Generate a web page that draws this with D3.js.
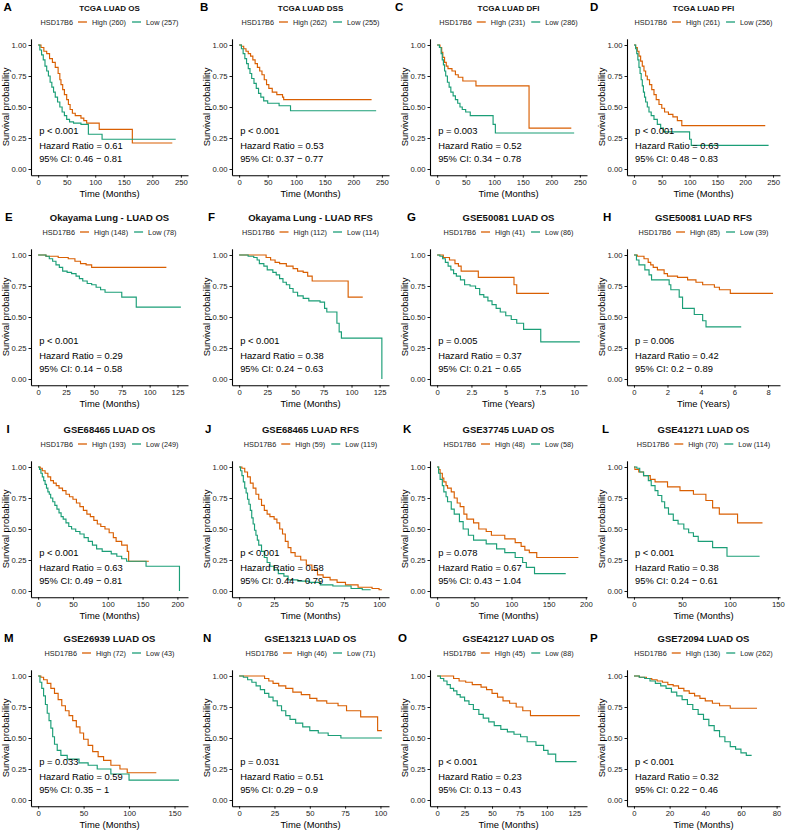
<!DOCTYPE html>
<html><head><meta charset="utf-8">
<script src="https://cdn.jsdelivr.net/npm/d3@7"></script>
<style>
body{margin:0;background:#fff}
svg{display:block}
text{font-family:"Liberation Sans",Arial,Helvetica,sans-serif}
</style>
</head><body>
<svg id="chart" width="786" height="833"></svg>
<script>
// ---------------- DATA ----------------
const panelLetters = ["A","B","C","D","E","F","G","H","I","J","K","L","M","N","O","P"];
const panelTitles = ["TCGA LUAD OS","TCGA LUAD DSS","TCGA LUAD DFI","TCGA LUAD PFI",
  "Okayama Lung - LUAD OS","Okayama Lung - LUAD RFS","GSE50081 LUAD OS","GSE50081 LUAD RFS",
  "GSE68465 LUAD OS","GSE68465 LUAD RFS","GSE37745 LUAD OS","GSE41271 LUAD OS",
  "GSE26939 LUAD OS","GSE13213 LUAD OS","GSE42127 LUAD OS","GSE72094 LUAD OS"];
const legendTitle = "HSD17B6";
const highLabels = ["High (260)","High (262)","HIgh (231)","High (261)","High (148)","High (112)","High (41)","High (85)",
  "High (193)","High (59)","High (48)","High (70)","High (72)","High (46)","HIgh (45)","HIgh (136)"];
const lowLabels = ["Low (257)","Low (255)","Low (286)","Low (256)","Low (78)","Low (114)","Low (86)","Low (39)",
  "Low (249)","Low (119)","Low (58)","Low (114)","Low (43)","Low (71)","Low (88)","Low (262)"];
const pLabels = ["p < 0.001","p < 0.001","p = 0.003","p < 0.001","p < 0.001","p < 0.001","p = 0.005","p = 0.006",
  "p < 0.001","p < 0.001","p = 0.078","p < 0.001","p = 0.033","p = 0.031","p < 0.001","p < 0.001"];
const hazardRatios = ["0.61","0.53","0.52","0.63","0.29","0.38","0.37","0.42","0.63","0.58","0.67","0.38","0.59","0.51","0.23","0.32"];
const ciLabels = ["0.46 − 0.81","0.37 − 0.77","0.34 − 0.78","0.48 − 0.83","0.14 − 0.58","0.24 − 0.63","0.21 − 0.65","0.2 − 0.89",
  "0.49 − 0.81","0.44 − 0.79","0.43 − 1.04","0.24 − 0.61","0.35 − 1","0.29 − 0.9","0.13 − 0.43","0.22 − 0.46"];
const timeUnits = ["Months","Months","Months","Months","Months","Months","Years","Years",
  "Months","Months","Months","Months","Months","Months","Months","Months"];
const xMax = [250,250,250,250,128,127,10.4,8.3,205,102,192,145,157,101,130,78];
const xTicks = [
  [0,50,100,150,200,250],[0,50,100,150,200,250],[0,50,100,150,200,250],[0,50,100,150,200,250],
  [0,25,50,75,100,125],[0,25,50,75,100,125],[0,2.5,5,7.5,10],[0,2,4,6,8],
  [0,50,100,150,200],[0,25,50,75,100],[0,50,100,150,200],[0,50,100,150],
  [0,50,100,150],[0,25,50,75,100],[0,25,50,75,100,125],[0,20,40,60,80]];
const yTicks = [0,0.25,0.5,0.75,1];

// Kaplan-Meier step points [time, survival] — High expression group
const highCurves = [
  [[0,1],[5,0.98],[10,0.95],[15,0.93],[20,0.89],[25,0.86],[30,0.82],[35,0.77],[38,0.72],[40,0.68],[43,0.64],[46,0.6],[50,0.56],[53,0.52],[56,0.48],[60,0.45],[65,0.43],[75,0.41],[80,0.39],[85,0.37],[107,0.32],[165,0.21],[235,0.21]],
  [[0,1],[4,0.99],[8,0.97],[12,0.95],[16,0.93],[20,0.91],[24,0.88],[28,0.85],[32,0.82],[36,0.79],[40,0.76],[44,0.72],[48,0.68],[52,0.65],[58,0.62],[66,0.6],[76,0.58],[78,0.56],[232,0.56]],
  [[0,1],[5,0.98],[8,0.94],[10,0.9],[13,0.86],[16,0.83],[19,0.81],[26,0.79],[32,0.76],[37,0.74],[45,0.71],[68,0.67],[161,0.33],[235,0.33]],
  [[0,1],[3,0.98],[6,0.95],[9,0.91],[12,0.87],[15,0.83],[18,0.79],[21,0.75],[24,0.72],[28,0.68],[32,0.64],[36,0.6],[40,0.56],[45,0.52],[50,0.49],[55,0.46],[62,0.44],[70,0.42],[78,0.39],[86,0.35],[236,0.35]],
  [[0,1],[7,0.99],[18,0.98],[27,0.97],[33,0.95],[38,0.93],[43,0.92],[48,0.9],[115,0.9]],
  [[0,1],[24,0.98],[28,0.96],[32,0.94],[36,0.93],[42,0.91],[48,0.89],[52,0.87],[57,0.86],[61,0.83],[65,0.79],[97,0.66],[110,0.66]],
  [[0,1],[0.45,0.98],[0.9,0.96],[1.3,0.93],[1.55,0.91],[1.75,0.87],[3.0,0.82],[5.6,0.76],[5.8,0.69],[8.15,0.69]],
  [[0,1],[0.2,0.99],[0.6,0.97],[0.85,0.94],[1.0,0.92],[1.15,0.9],[1.4,0.88],[1.8,0.85],[2.0,0.83],[2.6,0.82],[3.2,0.8],[3.7,0.78],[4.1,0.76],[4.8,0.74],[5.1,0.72],[5.75,0.69],[8.3,0.69]],
  [[0,1],[3,0.99],[6,0.97],[10,0.95],[14,0.92],[18,0.89],[22,0.87],[26,0.85],[30,0.83],[35,0.81],[40,0.78],[45,0.76],[50,0.74],[55,0.71],[60,0.68],[65,0.65],[70,0.62],[75,0.6],[80,0.57],[85,0.54],[90,0.52],[96,0.5],[102,0.47],[108,0.43],[112,0.4],[120,0.37],[128,0.32],[130,0.24],[159,0.24]],
  [[0,1],[2,0.99],[4,0.96],[6,0.92],[8,0.87],[10,0.83],[12,0.78],[14,0.74],[16,0.69],[18,0.65],[20,0.62],[22,0.6],[25,0.58],[27,0.55],[29,0.5],[31,0.46],[33,0.4],[35,0.35],[37,0.31],[40,0.28],[44,0.25],[48,0.21],[52,0.17],[56,0.13],[60,0.11],[65,0.09],[70,0.07],[76,0.05],[85,0.03],[95,0.02],[100,0.01],[102,0.01]],
  [[0,1],[2,0.98],[4,0.95],[7,0.91],[9,0.88],[12,0.85],[14,0.83],[19,0.8],[23,0.75],[27,0.71],[31,0.68],[36,0.62],[40,0.58],[49,0.55],[56,0.5],[66,0.48],[73,0.45],[91,0.42],[105,0.39],[113,0.36],[118,0.33],[124,0.31],[134,0.27],[190,0.27]],
  [[0,1],[1,0.98],[5,0.96],[10,0.93],[17,0.9],[22,0.88],[35,0.84],[48,0.81],[62,0.78],[75,0.73],[82,0.67],[89,0.62],[108,0.55],[134,0.55]],
  [[0,1],[3,0.99],[6,0.97],[10,0.94],[14,0.9],[18,0.86],[22,0.81],[26,0.76],[30,0.72],[34,0.68],[38,0.64],[42,0.59],[46,0.54],[50,0.49],[55,0.44],[60,0.39],[66,0.35],[72,0.32],[80,0.28],[90,0.25],[98,0.22],[130,0.22]],
  [[0,1],[18,0.98],[21,0.96],[24,0.94],[28,0.92],[33,0.9],[38,0.87],[44,0.85],[50,0.82],[55,0.8],[62,0.78],[70,0.76],[76,0.72],[86,0.67],[98,0.56],[101,0.56]],
  [[0,1],[15,0.98],[20,0.96],[26,0.95],[32,0.93],[40,0.91],[45,0.89],[50,0.86],[55,0.83],[60,0.8],[66,0.78],[72,0.75],[78,0.72],[85,0.68],[130,0.68]],
  [[0,1],[3,0.99],[7,0.98],[10,0.97],[13,0.96],[16,0.95],[19,0.93],[22,0.92],[25,0.9],[28,0.88],[31,0.86],[34,0.84],[37,0.82],[40,0.8],[44,0.78],[48,0.76],[54,0.74],[69,0.74]]
];
// Low expression group
const lowCurves = [
  [[0,1],[3,0.96],[6,0.92],[9,0.88],[12,0.83],[15,0.79],[18,0.75],[21,0.7],[24,0.66],[27,0.62],[30,0.58],[34,0.54],[38,0.5],[42,0.46],[46,0.43],[50,0.4],[55,0.38],[62,0.37],[75,0.36],[88,0.28],[112,0.24],[241,0.24]],
  [[0,1],[4,0.97],[7,0.93],[10,0.89],[13,0.85],[16,0.81],[19,0.77],[22,0.73],[26,0.69],[30,0.65],[34,0.61],[38,0.58],[43,0.55],[50,0.53],[70,0.51],[90,0.47],[240,0.47]],
  [[0,1],[4,0.98],[7,0.93],[9,0.88],[11,0.84],[13,0.79],[15,0.75],[18,0.7],[21,0.66],[24,0.62],[28,0.59],[32,0.56],[36,0.53],[40,0.5],[44,0.48],[50,0.46],[58,0.43],[98,0.36],[102,0.29],[240,0.29]],
  [[0,1],[3,0.97],[5,0.93],[7,0.88],[9,0.82],[11,0.77],[13,0.72],[15,0.67],[17,0.62],[19,0.58],[21,0.54],[24,0.5],[27,0.46],[31,0.43],[36,0.4],[42,0.36],[48,0.33],[53,0.3],[100,0.24],[103,0.19],[242,0.19]],
  [[0,1],[7,0.99],[10,0.97],[13,0.95],[16,0.92],[19,0.9],[22,0.87],[26,0.86],[30,0.85],[34,0.83],[37,0.81],[40,0.79],[44,0.77],[48,0.76],[52,0.74],[56,0.72],[60,0.7],[75,0.66],[88,0.58],[128,0.58]],
  [[0,1],[8,0.99],[13,0.98],[16,0.96],[18,0.93],[22,0.91],[25,0.88],[30,0.86],[33,0.84],[36,0.81],[39,0.78],[42,0.76],[45,0.73],[48,0.7],[52,0.67],[57,0.65],[62,0.63],[72,0.62],[76,0.57],[78,0.54],[87,0.45],[89,0.38],[91,0.33],[127,0.33],[127,0]],
  [[0,1],[0.2,0.99],[0.4,0.97],[0.6,0.94],[0.8,0.91],[1.0,0.88],[1.2,0.85],[1.4,0.83],[1.7,0.8],[2.0,0.76],[2.4,0.75],[2.8,0.73],[3.1,0.68],[3.4,0.66],[3.7,0.63],[4.0,0.6],[4.3,0.57],[4.6,0.54],[5.0,0.51],[5.4,0.48],[5.8,0.45],[6.3,0.4],[7.55,0.3],[10.4,0.3]],
  [[0,1],[0.15,0.96],[0.3,0.92],[0.65,0.88],[0.9,0.84],[1.05,0.8],[2.1,0.76],[2.2,0.72],[2.7,0.66],[2.9,0.57],[3.6,0.52],[4.1,0.47],[4.3,0.42],[6.4,0.42]],
  [[0,1],[2,0.98],[4,0.95],[6,0.92],[8,0.89],[10,0.86],[12,0.83],[14,0.8],[16,0.78],[18,0.75],[21,0.72],[24,0.69],[27,0.66],[30,0.63],[33,0.6],[36,0.58],[40,0.55],[44,0.52],[48,0.5],[54,0.48],[60,0.46],[66,0.43],[72,0.4],[78,0.37],[84,0.34],[92,0.32],[105,0.3],[113,0.28],[120,0.26],[127,0.24],[155,0.2],[203,0.2],[203,0]],
  [[0,1],[1,0.97],[2,0.93],[3,0.88],[4,0.83],[5,0.79],[6,0.74],[7,0.7],[8,0.65],[9,0.59],[10,0.54],[11,0.49],[12,0.45],[13,0.41],[14,0.37],[16,0.32],[18,0.27],[20,0.23],[22,0.2],[25,0.17],[28,0.14],[32,0.12],[35,0.09],[42,0.08],[50,0.07],[58,0.05],[67,0.04],[80,0.02],[88,0.01],[94,0.01]],
  [[0,1],[2,0.95],[4,0.9],[7,0.85],[9,0.8],[12,0.76],[14,0.72],[19,0.66],[23,0.62],[30,0.56],[35,0.5],[42,0.45],[49,0.41],[66,0.38],[80,0.34],[91,0.31],[105,0.27],[115,0.23],[120,0.19],[131,0.14],[173,0.14]],
  [[0,1],[3,0.99],[6,0.96],[10,0.93],[15,0.89],[18,0.85],[22,0.81],[25,0.77],[29,0.72],[32,0.67],[36,0.62],[41,0.57],[46,0.54],[52,0.5],[57,0.47],[62,0.44],[67,0.4],[82,0.35],[97,0.28],[131,0.28]],
  [[0,1],[2,0.95],[4,0.9],[6,0.84],[8,0.77],[10,0.7],[12,0.64],[14,0.58],[16,0.51],[18,0.45],[21,0.4],[25,0.36],[32,0.33],[45,0.3],[55,0.28],[65,0.25],[80,0.21],[100,0.16],[155,0.16]],
  [[0,1],[3,0.99],[6,0.97],[9,0.95],[12,0.92],[15,0.89],[18,0.86],[21,0.83],[24,0.8],[27,0.76],[30,0.72],[33,0.68],[36,0.65],[40,0.62],[45,0.59],[50,0.56],[56,0.54],[63,0.52],[72,0.5],[101,0.5]],
  [[0,1],[3,0.98],[6,0.96],[9,0.93],[12,0.9],[15,0.88],[18,0.85],[21,0.83],[25,0.8],[29,0.77],[33,0.73],[38,0.69],[42,0.66],[47,0.63],[52,0.6],[58,0.57],[64,0.55],[70,0.53],[76,0.51],[82,0.47],[90,0.44],[97,0.4],[101,0.37],[108,0.31],[127,0.31]],
  [[0,1],[3,0.99],[6,0.98],[9,0.96],[12,0.94],[15,0.92],[18,0.9],[21,0.87],[24,0.84],[27,0.81],[30,0.77],[33,0.73],[36,0.69],[39,0.65],[42,0.6],[45,0.56],[48,0.51],[51,0.47],[54,0.43],[57,0.41],[60,0.38],[63,0.36],[66,0.36]]
];

// ---------------- LAYOUT / STYLE ----------------
const colHigh = "#D95F02", colLow = "#1B9E77";
const colAxisX = [31, 232, 430, 627];
const colW = [157, 157, 157, 153];
const rowOff = [0, 210, 422, 631];
const letterX = [3.5,200,395,590, 5,208,407,603, 6.5,205,403,602, 4,203,398,590];
const titleSize = [8, 9.5, 9.5, 9.5];

const svg = d3.select("#chart");
svg.append("rect").attr("width",786).attr("height",833).attr("fill","#fff");

panelLetters.forEach((letter, i) => {
  const c = i % 4, r = Math.floor(i / 4);
  const R = rowOff[r];
  const left = colAxisX[c], width = colW[c];
  const top = R + 38.8, bottom = R + 175.2;
  const D = xMax[i];
  const x = d3.scaleLinear().domain([-0.05 * D, 1.05 * D]).range([left, left + width]);
  const y = d3.scaleLinear().domain([-0.05, 1.05]).range([bottom, top]);
  const g = svg.append("g");
  const cx = left + width / 2;

  // panel letter
  g.append("text").attr("x", letterX[i]).attr("y", R + 10.5)
    .attr("font-size", 11.5).attr("font-weight", "bold").attr("fill", "#000").text(letter);
  // title
  g.append("text").attr("x", cx).attr("y", R + 11).attr("text-anchor", "middle")
    .attr("font-size", titleSize[r]).attr("font-weight", "bold").attr("fill", "#111").text(panelTitles[i]);

  // legend
  const lg = g.append("g");
  const ly = R + 22;
  const fs = 7.3;
  let xx = 0;
  const t0 = lg.append("text").attr("x", xx).attr("y", ly).attr("dy", "0.35em").attr("font-size", fs).attr("fill", "#222").text(legendTitle);
  xx += t0.node().getComputedTextLength() + 5;
  [[colHigh, highLabels[i]], [colLow, lowLabels[i]]].forEach(([col, lab], k) => {
    lg.append("line").attr("x1", xx).attr("x2", xx + 9).attr("y1", ly).attr("y2", ly)
      .attr("stroke", col).attr("stroke-width", 1.3);
    xx += 9 + 5;
    const tt = lg.append("text").attr("x", xx).attr("y", ly).attr("dy", "0.35em").attr("font-size", fs).attr("fill", "#222").text(lab);
    xx += tt.node().getComputedTextLength() + (k === 0 ? 6 : 0);
  });
  lg.attr("transform", `translate(${cx - xx / 2},0)`);

  // curves
  const line = d3.line().x(d => x(d[0])).y(d => y(d[1])).curve(d3.curveStepAfter);
  g.append("path").datum(highCurves[i]).attr("d", line).attr("fill", "none")
    .attr("stroke", colHigh).attr("stroke-width", 1.15);
  g.append("path").datum(lowCurves[i]).attr("d", line).attr("fill", "none")
    .attr("stroke", colLow).attr("stroke-width", 1.15);

  // axes
  const ya = g.append("g").attr("transform", `translate(${left},0)`)
    .call(d3.axisLeft(y).tickValues(yTicks).tickFormat(d3.format(".2f")).tickSize(2.5).tickSizeOuter(0).tickPadding(2));
  const xa = g.append("g").attr("transform", `translate(0,${bottom})`)
    .call(d3.axisBottom(x).tickValues(xTicks[i]).tickFormat(d => String(d)).tickSize(2.5).tickSizeOuter(0).tickPadding(2));
  [ya, xa].forEach(a => {
    a.select(".domain").attr("stroke", "#000").attr("stroke-width", 1.1);
    a.selectAll(".tick line").attr("stroke", "#000").attr("stroke-width", 0.9);
    a.selectAll(".tick text").attr("font-size", 7.7).attr("fill", "#222")
      .attr("font-family", '"Liberation Sans",Arial,sans-serif');
  });

  // axis titles
  g.append("text").attr("x", cx).attr("y", R + 196.5).attr("text-anchor", "middle")
    .attr("font-size", 9.4).attr("fill", "#000").text(`Time (${timeUnits[i]})`);
  g.append("text").attr("transform", `translate(${left - 22},${(top + bottom) / 2}) rotate(-90)`)
    .attr("text-anchor", "middle").attr("font-size", 9.4).attr("fill", "#000").text("Survival probability");

  // annotations
  const ax = x(0) + 1;
  [[pLabels[i], 0.305], ["Hazard Ratio = " + hazardRatios[i], 0.19], ["95% CI: " + ciLabels[i], 0.085]].forEach(([t, yy]) => {
    g.append("text").attr("x", ax).attr("y", y(yy)).attr("dy", "0.35em")
      .attr("font-size", 9.4).attr("fill", "#000").text(t);
  });
});
</script>
</body></html>
